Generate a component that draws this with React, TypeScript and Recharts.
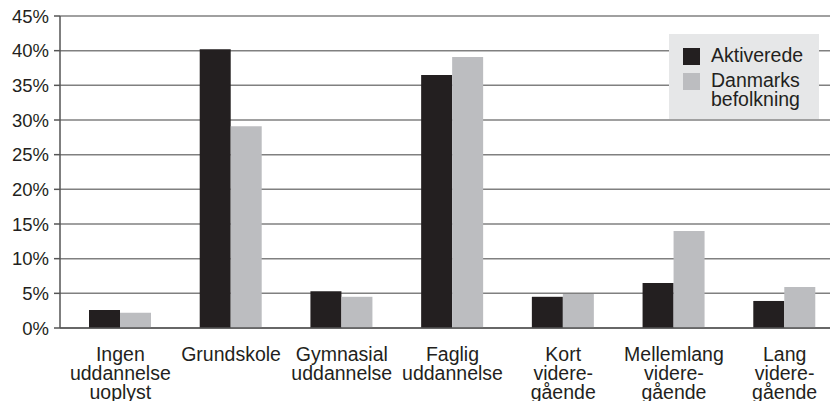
import React from 'react';
import {
  BarChart,
  Bar,
  CartesianGrid,
  XAxis,
  YAxis,
} from 'recharts';

const categories = [
  'Ingen\nuddannelse\nuoplyst',
  'Grundskole',
  'Gymnasial\nuddannelse',
  'Faglig\nuddannelse',
  'Kort\nvidere-\ngående',
  'Mellemlang\nvidere-\ngående',
  'Lang\nvidere-\ngående',
];
const aktiverede = [2.6, 40.2, 5.3, 36.5, 4.5, 6.5, 3.9];
const befolkning = [2.2, 29.1, 4.5, 39.1, 4.9, 14.0, 5.9];
const yTicks = [0, 5, 10, 15, 20, 25, 30, 35, 40, 45];

const series = [
  { key: 'aktiverede', name: 'Aktiverede', color: '#231f20' },
  { key: 'befolkning', name: 'Danmarks befolkning', color: '#bcbdc0' },
];

const data = categories.map((name, i) => ({
  name,
  aktiverede: aktiverede[i],
  befolkning: befolkning[i],
}));

const FONT = '"Liberation Sans", Arial, Helvetica, sans-serif';
const TEXT = '#231f20';

function CategoryTick({ x, y, payload }: any) {
  const lines = String(payload.value).split('\n');
  return (
    <text textAnchor="middle" fontFamily={FONT} fontSize={19.5} fill={TEXT}>
      {lines.map((line, i) => (
        <tspan key={i} x={x} y={y + 33 + i * 19.2}>
          {line}
        </tspan>
      ))}
    </text>
  );
}

function LegendBox() {
  return (
    <div
      style={{
        position: 'absolute',
        left: 669,
        top: 34,
        width: 150,
        height: 85,
        background: '#e6e7e8',
        fontFamily: FONT,
        fontSize: 19.5,
        color: TEXT,
        lineHeight: '19.5px',
      }}
    >
      {series.map((s, i) => (
        <div key={s.key} style={{ position: 'absolute', left: 14, top: i === 0 ? 14 : 39 }}>
          <div style={{ width: 17, height: 17, background: s.color, position: 'absolute', left: 0, top: 0 }} />
          <div style={{ position: 'absolute', left: 28, top: -2.5, width: 100 }}>{s.name}</div>
        </div>
      ))}
    </div>
  );
}

export default function App() {
  return (
    <div style={{ position: 'fixed', left: 0, top: 0, width: 830, height: 401, overflow: 'hidden', background: '#fff' }}>
      <BarChart
        width={850}
        height={401}
        data={data}
        margin={{ top: 16, right: 10, left: 0, bottom: 0 }}
        barGap={0}
        barSize={31}
      >
        <CartesianGrid vertical={false} stroke="#808080" strokeWidth={1.5} />
        <XAxis
          dataKey="name"
          interval={0}
          height={73}
          padding={{ left: 5, right: 0 }}
          axisLine={{ stroke: '#555', strokeWidth: 1.5 }}
          tickLine={false}
          tickSize={0}
          tickMargin={0}
          tick={<CategoryTick />}
        />
        <YAxis
          width={60}
          domain={[0, 45]}
          ticks={yTicks}
          interval={0}
          tickFormatter={(v) => `${v}%`}
          axisLine={{ stroke: '#555', strokeWidth: 1.5 }}
          tickLine={{ stroke: '#555', strokeWidth: 1.5 }}
          tickSize={6}
          tickMargin={5}
          tick={{ fontFamily: FONT, fontSize: 18.5, fill: TEXT }}
        />
        {series.map((s) => (
          <Bar key={s.key} dataKey={s.key} name={s.name} fill={s.color} isAnimationActive={false} />
        ))}
      </BarChart>
      <LegendBox />
    </div>
  );
}
